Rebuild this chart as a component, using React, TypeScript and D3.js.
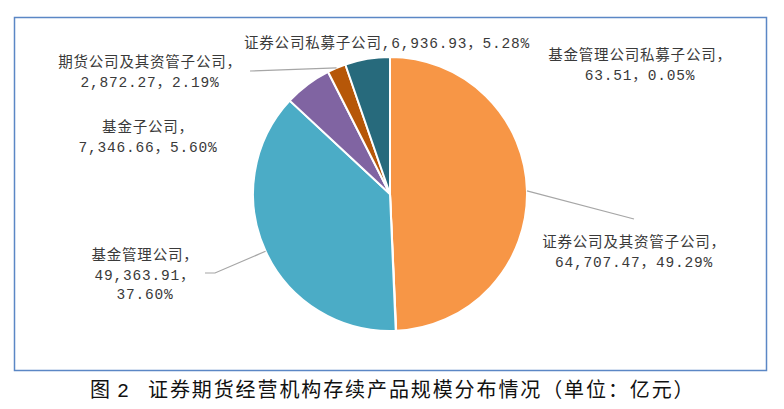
import { useMemo } from 'react';
import * as d3 from 'd3';

// 存续产品规模（亿元）, slices run clockwise from 12 o'clock
const categories = [
  '证券公司及其资管子公司',
  '基金管理公司私募子公司',
  '基金管理公司',
  '基金子公司',
  '期货公司及其资管子公司',
  '证券公司私募子公司',
];
const values = [64707.47, 63.51, 49363.91, 7346.66, 2872.27, 6936.93];
const colors = ['#F79646', '#C0504D', '#4BACC6', '#8064A2', '#B65708', '#276A7C'];
const caption = '证券期货经营机构存续产品规模分布情况（单位：亿元）';

// hand placed label boxes (as in the source chart): centre x, first baseline y, line breaking
const labelLayout = [
  { x: 634, y: 247, mode: 'two', leader: [[634, 219]] },
  { x: 640, y: 60, mode: 'two', leader: null },
  { x: 145, y: 260, mode: 'three', leader: [[215, 273], [205, 273]] },
  { x: 148, y: 132, mode: 'two', leader: null },
  { x: 150, y: 67, mode: 'two', leader: [[250, 71]] },
  { x: 387, y: 48, mode: 'one', leader: null },
];

const W = 784;
const H = 409;
const cx = 390;
const cy = 194;
const radius = 137;
const fontStack = '"Liberation Mono", "Noto Sans CJK SC", monospace';

const fmtValue = d3.format(',.2f');
const fmtPct = d3.format('.2%');

export default function App() {
  const total = d3.sum(values);
  const arcs = useMemo(() => {
    const pie = d3
      .pie<number>()
      .sort(null)
      .value((d) => d);
    return pie(values);
  }, []);

  const arc = d3.arc<d3.PieArcDatum<number>>().innerRadius(0).outerRadius(radius);
  const edge = d3.arc<d3.PieArcDatum<number>>().innerRadius(radius).outerRadius(radius);

  const lineGen = d3.line();

  const labelLines = (i: number) => {
    const name = categories[i];
    const v = fmtValue(values[i]);
    const p = fmtPct(values[i] / total);
    const mode = labelLayout[i].mode;
    if (mode === 'one') return [`${name},${v}，${p}`];
    if (mode === 'three') return [`${name}，`, `${v}，`, p];
    return [`${name}，`, `${v}，${p}`];
  };

  return (
    <svg
      width={W}
      height={H}
      style={{ position: 'absolute', left: 0, top: 0, background: '#fff' }}
    >
      <rect x={0} y={0} width={W} height={H} fill="#fff" />
      <rect x={14.5} y={17.5} width={752} height={353} fill="#fff" stroke="#5B87C5" strokeWidth={1.5} />

      <g transform={`translate(${cx},${cy})`}>
        {arcs.map((a, i) => (
          <path key={categories[i]} d={arc(a)!} fill={colors[i]} stroke="#fff" strokeWidth={2} />
        ))}
      </g>

      {arcs.map((a, i) => {
        const lay = labelLayout[i];
        if (!lay.leader) return null;
        const [ex, ey] = edge.centroid(a);
        const pts = [[cx + ex, cy + ey], ...lay.leader] as [number, number][];
        return (
          <path key={`l${i}`} d={lineGen(pts)!} fill="none" stroke="#A6A6A6" strokeWidth={1.2} />
        );
      })}

      {arcs.map((a, i) => {
        const lay = labelLayout[i];
        return (
          <text
            key={`t${i}`}
            x={lay.x}
            y={lay.y}
            textAnchor="middle"
            fontFamily={fontStack}
            fontSize={14.5}
            letterSpacing={0.8}
            fill="#3a3a3a"
          >
            {labelLines(i).map((s, k) => (
              <tspan key={k} x={lay.x} dy={k === 0 ? 0 : 19.5}>
                {s}
              </tspan>
            ))}
          </text>
        );
      })}

      <text y={397} fontFamily={fontStack} fontSize={20} fill="#111">
        <tspan x={90}>图</tspan>
        <tspan x={117}>2</tspan>
        <tspan x={148} letterSpacing={1.9}>
          {caption}
        </tspan>
      </text>
    </svg>
  );
}
